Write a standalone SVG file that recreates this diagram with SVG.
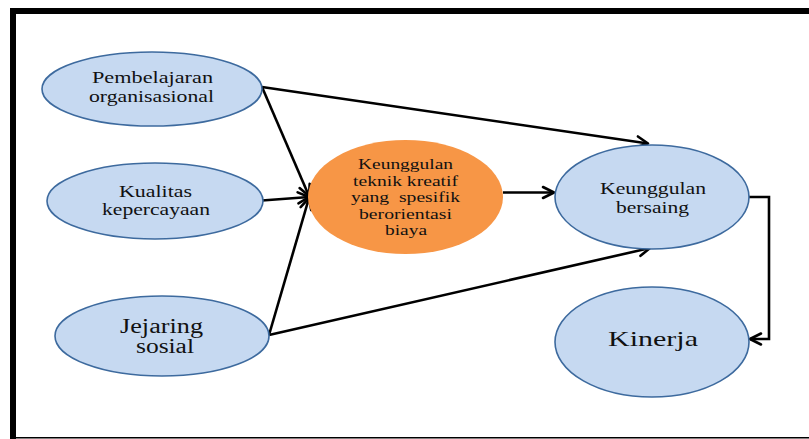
<svg xmlns="http://www.w3.org/2000/svg" width="809" height="439" viewBox="0 0 809 439">
<style>
.blue{fill:#C6D9F1;stroke:#3D6A9E;stroke-width:1.6}
.orange{fill:#F79646;stroke:none}
.t{font-family:"Liberation Serif","Times New Roman",serif;fill:#111;text-anchor:middle}
.c{fill:none;stroke:#000;stroke-width:2.6;marker-end:url(#ah)}
</style>
<defs>
<marker id="ah" markerUnits="userSpaceOnUse" markerWidth="16" markerHeight="16" viewBox="-14 -8 16 16" refX="0" refY="0" orient="auto">
<path d="M-11,-5.5 L0,0 L-11,5.5" fill="none" stroke="#000" stroke-width="2.6" stroke-linejoin="round" stroke-linecap="round"/>
</marker>
</defs>
<rect x="0" y="0" width="809" height="439" fill="#fff"/>
<g id="frame">
<rect x="10" y="8" width="799" height="6" fill="#000"/>
<rect x="10" y="8" width="6" height="431" fill="#000"/>
<line x1="10" y1="437.8" x2="809" y2="437.8" stroke="#000" stroke-width="1.6"/>
</g>
<g id="connectors">
<path class="c" d="M262,87 L648,143.5"/>
<path class="c" d="M262,87 L309,196"/>
<path class="c" d="M262,200.5 L309,197"/>
<path class="c" d="M269,335 L309,198"/>
<path class="c" d="M269,335 L650,248"/>
<path class="c" d="M503,192.5 L554,192.5"/>
<path class="c" d="M749,197 L769,197 L769,339 L750,339"/>
</g>
<g id="pembelajaran">
<ellipse class="blue" cx="152" cy="89" rx="110" ry="37"/>
<text class="t" font-size="17" x="152.5" y="83" textLength="121" lengthAdjust="spacingAndGlyphs">Pembelajaran</text>
<text class="t" font-size="17" x="151.5" y="102" textLength="125" lengthAdjust="spacingAndGlyphs">organisasional</text>
</g>
<g id="kualitas">
<ellipse class="blue" cx="155" cy="201" rx="108" ry="38"/>
<text class="t" font-size="17" x="155.5" y="196.5" textLength="73" lengthAdjust="spacingAndGlyphs">Kualitas</text>
<text class="t" font-size="17" x="156" y="215" textLength="108" lengthAdjust="spacingAndGlyphs">kepercayaan</text>
</g>
<g id="jejaring">
<ellipse class="blue" cx="162" cy="336" rx="107" ry="40"/>
<text class="t" font-size="20" x="161.5" y="333" textLength="83" lengthAdjust="spacingAndGlyphs">Jejaring</text>
<text class="t" font-size="20" x="165" y="353" textLength="58" lengthAdjust="spacingAndGlyphs">sosial</text>
</g>
<g id="keunggulan-teknik">
<ellipse class="orange" cx="405.5" cy="197" rx="97.5" ry="57"/>
<text class="t" font-size="14" x="405.5" y="169" textLength="95" lengthAdjust="spacingAndGlyphs">Keunggulan</text>
<text class="t" font-size="14" x="405.5" y="186" textLength="105" lengthAdjust="spacingAndGlyphs">teknik kreatif</text>
<text class="t" font-size="14" x="405.5" y="202" textLength="109" lengthAdjust="spacingAndGlyphs" xml:space="preserve">yang  spesifik</text>
<text class="t" font-size="14" x="405.5" y="219" textLength="93" lengthAdjust="spacingAndGlyphs">berorientasi</text>
<text class="t" font-size="14" x="406" y="235" textLength="42" lengthAdjust="spacingAndGlyphs">biaya</text>
</g>
<g id="keunggulan-bersaing">
<ellipse class="blue" cx="652" cy="197" rx="97" ry="52"/>
<text class="t" font-size="16.5" x="653" y="194" textLength="106" lengthAdjust="spacingAndGlyphs">Keunggulan</text>
<text class="t" font-size="16.5" x="652.5" y="213" textLength="73" lengthAdjust="spacingAndGlyphs">bersaing</text>
</g>
<g id="kinerja">
<ellipse class="blue" cx="652" cy="342" rx="97" ry="55"/>
<text class="t" font-size="22" x="653" y="346" textLength="90" lengthAdjust="spacingAndGlyphs">Kinerja</text>
</g>
</svg>
